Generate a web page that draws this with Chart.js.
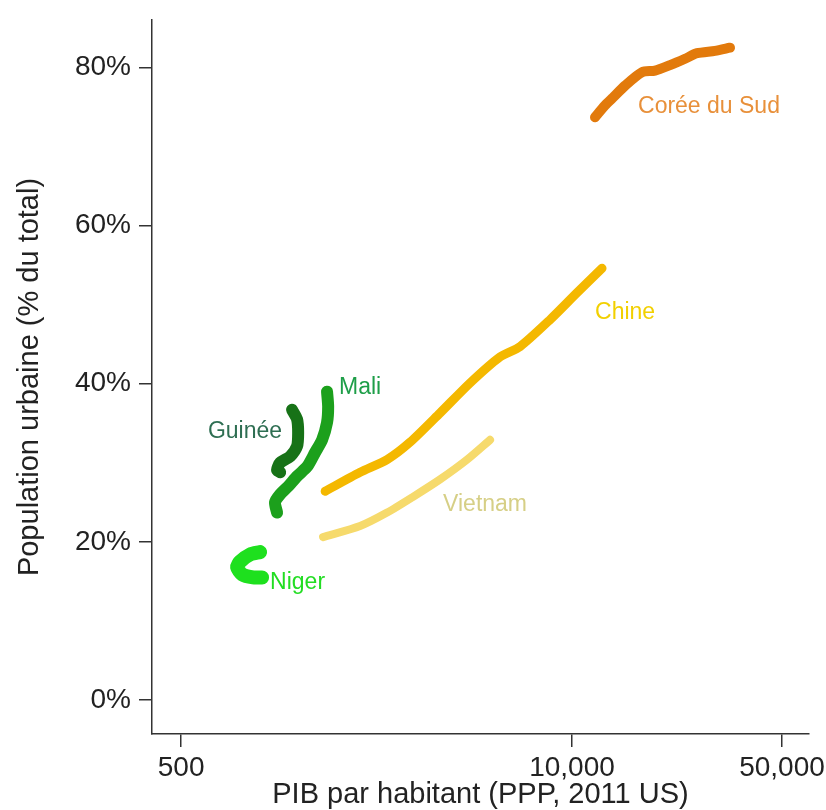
<!DOCTYPE html>
<html>
<head>
<meta charset="utf-8">
<script src="https://cdn.jsdelivr.net/npm/chart.js@4"></script>
<style>
  html, body { margin: 0; padding: 0; background: #fff; }
  #wrap { width: 826px; height: 810px; }
</style>
</head>
<body>
<div id="wrap"><canvas id="c" width="826" height="810"></canvas></div>
<script>
// ---- Data ----
const seriesNames = ['Corée du Sud', 'Chine', 'Vietnam', 'Mali', 'Guinée', 'Niger'];

const koreaGdp   = [11930, 12880, 13700, 15020, 17100, 18900, 21200, 23780, 26080, 29920, 33570];
const koreaUrban = [73.7, 75.2, 76.2, 77.7, 79.4, 79.6, 80.3, 81.1, 81.8, 82.1, 82.5];

const chinaGdp   = [1508, 1971, 2424, 2891, 3638, 4578, 5762, 6716, 8453, 10390, 12590];
const chinaUrban = [26.4, 28.8, 30.4, 32.6, 36.3, 40.1, 43.4, 44.7, 48.1, 51.5, 54.6];

const vietnamGdp   = [1484, 1971, 2424, 2958, 3638, 4474, 5337];
const vietnamUrban = [20.6, 22.0, 23.7, 25.7, 27.9, 30.4, 32.9];

const maliGdp   = [1043, 1027, 1068, 1135, 1216, 1313, 1396, 1473, 1530, 1543, 1530];
const maliUrban = [23.7, 25.0, 26.0, 27.0, 28.3, 29.5, 31.3, 32.9, 35.1, 37.1, 39.0];

const guineeGdp   = [1068, 1043, 1068, 1153, 1216, 1226, 1216, 1170];
const guineeUrban = [28.8, 29.1, 30.0, 30.8, 32.1, 33.8, 35.5, 36.7];

const nigerGdp   = [930, 868, 798, 768, 786, 848, 916];
const nigerUrban = [15.5, 15.5, 15.9, 16.8, 17.5, 18.4, 18.7];

const xTickValues = [500, 10000, 50000];
const xTickLabels = ['500', '10,000', '50,000'];
const yTickValues = [0, 20, 40, 60, 80];
const yTickLabels = ['0%', '20%', '40%', '60%', '80%'];

// ---- Styles ----
const FONT = "'Liberation Sans', Arial, Helvetica, sans-serif";
const lineColors  = ['#E27A0C', '#F4B800', '#F6DA6C', '#1CA01C', '#177217', '#1EE01E'];
const lineWidths  = [10, 9, 8, 12, 12, 14];
const labelColors = ['#E8903A', '#F2D000', '#D6CF86', '#1E9E48', '#2E6E52', '#22DD22'];
// label placement relative to a data point of each series (pixel offsets)
const labelPlacement = [
  { idx: 0,  dx: 43,  dy: -11, align: 'left'  },
  { idx: 10, dx: -7,  dy: 44,  align: 'left'  },
  { idx: 6,  dx: -47, dy: 65,  align: 'left'  },
  { idx: 10, dx: 12,  dy: -4,  align: 'left'  },
  { idx: 7,  dx: -10, dy: 22,  align: 'right' },
  { idx: 0,  dx: 8,   dy: 5,   align: 'left'  }
];

const allX = [koreaGdp, chinaGdp, vietnamGdp, maliGdp, guineeGdp, nigerGdp];
const allY = [koreaUrban, chinaUrban, vietnamUrban, maliUrban, guineeUrban, nigerUrban];

const datasets = seriesNames.map((name, i) => ({
  label: name,
  data: allX[i].map((x, j) => ({ x: x, y: allY[i][j] })),
  borderColor: lineColors[i],
  backgroundColor: lineColors[i],
  borderWidth: lineWidths[i],
  borderCapStyle: 'round',
  borderJoinStyle: 'round',
  pointRadius: 0,
  tension: 0.25,
  fill: false
}));

const seriesLabelPlugin = {
  id: 'seriesLabels',
  afterDatasetsDraw(chart) {
    const ctx = chart.ctx;
    const xs = chart.scales.x, ys = chart.scales.y;
    ctx.save();
    ctx.font = '23px ' + FONT;
    ctx.textBaseline = 'middle';
    seriesNames.forEach((name, i) => {
      const p = labelPlacement[i];
      const px = xs.getPixelForValue(allX[i][p.idx]) + p.dx;
      const py = ys.getPixelForValue(allY[i][p.idx]) + p.dy;
      ctx.fillStyle = labelColors[i];
      ctx.textAlign = p.align;
      ctx.fillText(name, px, py);
    });
    ctx.restore();
  }
};

new Chart(document.getElementById('c'), {
  type: 'line',
  data: { datasets: datasets },
  options: {
    responsive: false,
    animation: false,
    devicePixelRatio: 1,
    layout: { padding: { left: 0, right: 17, top: 20, bottom: 0 } },
    plugins: { legend: { display: false }, tooltip: { enabled: false } },
    scales: {
      x: {
        type: 'logarithmic',
        min: 400,
        max: 61500,
        afterBuildTicks(scale) { scale.ticks = xTickValues.map(v => ({ value: v })); },
        afterFit(scale) { scale.height = 76; scale.paddingLeft = 0; scale.paddingRight = 0; },
        ticks: {
          autoSkip: false,
          maxRotation: 0,
          padding: 4,
          color: '#222',
          font: { family: FONT, size: 28 },
          callback(value) { const k = xTickValues.indexOf(value); return k >= 0 ? xTickLabels[k] : ''; }
        },
        grid: { drawOnChartArea: false, drawTicks: true, tickLength: 13, color: '#333', lineWidth: 1.5 },
        border: { display: true, color: '#333', width: 1.5 },
        title: {
          display: true,
          text: 'PIB par habitant (PPP, 2011 US)',
          color: '#222',
          font: { family: FONT, size: 29, lineHeight: 1.05 },
          padding: { top: 0, bottom: 0 }
        }
      },
      y: {
        type: 'linear',
        min: -4.3,
        max: 86,
        afterBuildTicks(scale) { scale.ticks = yTickValues.map(v => ({ value: v })); },
        afterFit(scale) { scale.width = 152; scale.paddingTop = 0; scale.paddingBottom = 0; },
        ticks: {
          autoSkip: false,
          padding: 8,
          color: '#222',
          font: { family: FONT, size: 28 },
          callback(value) { const k = yTickValues.indexOf(value); return k >= 0 ? yTickLabels[k] : ''; }
        },
        grid: { drawOnChartArea: false, drawTicks: true, tickLength: 13, color: '#333', lineWidth: 1.5 },
        border: { display: true, color: '#333', width: 1.5 },
        title: {
          display: true,
          text: 'Population urbaine (% du total)',
          color: '#222',
          font: { family: FONT, size: 29, lineHeight: 1.05 },
          padding: { top: 15, bottom: 0 }
        }
      }
    }
  },
  plugins: [seriesLabelPlugin]
});
</script>
</body>
</html>
